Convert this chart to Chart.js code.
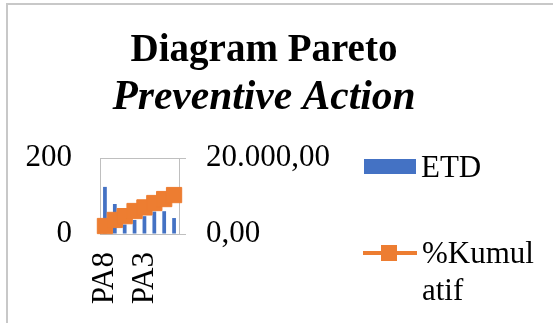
<!DOCTYPE html>
<html>
<head>
<meta charset="utf-8">
<script src="https://cdn.jsdelivr.net/npm/chart.js@4.4.1/dist/chart.umd.min.js"></script>
<style>
  html, body { margin: 0; padding: 0; background: #fff; overflow: hidden; }
  #wrap { position: relative; width: 553px; height: 323px; overflow: hidden; }
  #frame { position: absolute; left: 6px; top: 3px; width: 620px; height: 400px;
           border: 2px solid #c8c8c8; box-sizing: border-box; }
  canvas { position: absolute; left: 0; top: 0; }
</style>
</head>
<body>
<div id="wrap">
  <div id="frame"></div>
  <canvas id="pareto" width="553" height="323"></canvas>
</div>
<script>
// Categories and series
const categories = ['PA8', 'PA1', 'PA2', 'PA5', 'PA3', 'PA4', 'PA6', 'PA7'];
const etd = [124, 79, 25, 37, 47, 59, 60, 42];
const kumulatif = [2100, 3700, 4700, 6050, 7000, 8150, 9200, 10250];

// Axis ticks
const leftTicks = [0, 200];
const rightTicks = [0, 20000];

// Texts
const titleText = 'Diagram Pareto';
const subtitleText = 'Preventive Action';
const barLabel = 'ETD';
const lineLabel = '%Kumulatif';

const SERIF = "'Liberation Serif', 'Times New Roman', serif";
const BLUE = '#4472C4';
const ORANGE = '#ED7D31';
const AXIS = '#bfbfbf';

// 20000 -> "20.000,00"
function fmtId(v) {
  const s = Math.round(v).toString().replace(/\B(?=(\d{3})+(?!\d))/g, '.');
  return s + ',00';
}

// Legend drawn at the right of the chart, with wrapping on a narrow width
const sideLegend = {
  id: 'sideLegend',
  afterDraw(chart) {
    const ctx = chart.ctx;
    const ds = chart.data.datasets;
    ctx.save();
    ctx.font = '31px ' + SERIF;
    ctx.textAlign = 'left';
    ctx.textBaseline = 'alphabetic';

    // bar entry
    const bar = ds.find(d => d.type === 'bar');
    ctx.fillStyle = bar.backgroundColor;
    ctx.fillRect(364, 159, 52, 15);
    ctx.fillStyle = '#000';
    ctx.fillText(bar.label, 421, 177);

    // line entry
    const line = ds.find(d => d.type === 'line');
    ctx.strokeStyle = line.borderColor;
    ctx.lineWidth = 4;
    ctx.beginPath();
    ctx.moveTo(363, 253);
    ctx.lineTo(417, 253);
    ctx.stroke();
    ctx.fillStyle = line.borderColor;
    ctx.fillRect(381, 245, 16, 16);

    // wrap by characters within the available width
    const maxW = 118;
    const lines = [];
    let cur = '';
    for (const ch of line.label) {
      if (cur && ctx.measureText(cur + ch).width > maxW) { lines.push(cur); cur = ch; }
      else cur += ch;
    }
    if (cur) lines.push(cur);
    ctx.fillStyle = '#000';
    lines.forEach((t, i) => ctx.fillText(t, 422, 263 + i * 37));
    ctx.restore();
  }
};

new Chart(document.getElementById('pareto'), {
  data: {
    labels: categories,
    datasets: [
      {
        type: 'line',
        label: lineLabel,
        data: kumulatif,
        yAxisID: 'y1',
        borderColor: ORANGE,
        backgroundColor: ORANGE,
        borderWidth: 4,
        pointStyle: 'rect',
        pointRadius: 10.8,
        pointBorderWidth: 1,
        pointBackgroundColor: ORANGE,
        pointBorderColor: ORANGE,
        tension: 0,
        clip: false,
        order: 1
      },
      {
        type: 'bar',
        label: barLabel,
        data: etd,
        yAxisID: 'y',
        backgroundColor: BLUE,
        barPercentage: 0.38,
        categoryPercentage: 1.0,
        order: 2
      }
    ]
  },
  options: {
    responsive: false,
    animation: false,
    devicePixelRatio: 1,
    layout: { padding: { left: 0, right: 25, top: 0, bottom: 0 } },
    plugins: {
      legend: { display: false },
      tooltip: { enabled: false },
      title: {
        display: true,
        text: titleText,
        color: '#000',
        font: { family: SERIF, size: 39, weight: 'bold', lineHeight: 1.2 },
        padding: { top: 28, bottom: 0 }
      },
      subtitle: {
        display: true,
        text: subtitleText,
        color: '#000',
        font: { family: SERIF, size: 41.5, weight: 'bold', style: 'italic', lineHeight: 1.128 },
        padding: { top: 0, bottom: 36.4 }
      }
    },
    scales: {
      x: {
        type: 'category',
        offset: true,
        grid: { display: false, drawTicks: false },
        border: { display: true, color: AXIS, width: 1 },
        ticks: {
          autoSkip: false,
          minRotation: 90,
          maxRotation: 90,
          padding: 18,
          color: '#000',
          font: { family: SERIF, size: 31 },
          callback: (v, i) => (i % 4 === 0 ? categories[i] : '')
        },
        afterFit: s => { s.height = 89; }
      },
      y: {
        position: 'left',
        min: leftTicks[0],
        max: leftTicks[leftTicks.length - 1],
        afterBuildTicks: s => { s.ticks = leftTicks.map(v => ({ value: v })); },
        grid: { display: true, color: AXIS, drawTicks: false },
        border: { display: true, color: AXIS, width: 1 },
        ticks: {
          padding: 28,
          color: '#000',
          font: { family: SERIF, size: 31 },
          callback: v => String(v)
        },
        afterFit: s => { s.width = 100; }
      },
      y1: {
        position: 'right',
        min: rightTicks[0],
        max: rightTicks[rightTicks.length - 1],
        afterBuildTicks: s => { s.ticks = rightTicks.map(v => ({ value: v })); },
        grid: { display: true, drawOnChartArea: false, drawTicks: true, tickLength: 7, color: AXIS },
        border: { display: true, color: AXIS, width: 1 },
        ticks: {
          padding: 20,
          color: '#000',
          font: { family: SERIF, size: 31 },
          callback: v => fmtId(v)
        },
        afterFit: s => { s.width = 553 - 25 - 179; }
      }
    }
  },
  plugins: [sideLegend]
});
</script>
</body>
</html>
